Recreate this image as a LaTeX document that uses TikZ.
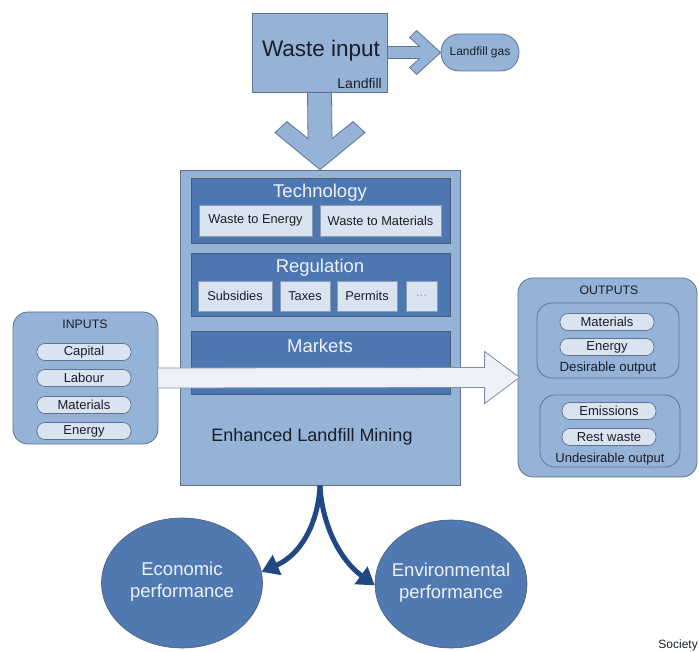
\documentclass[tikz,border=0pt]{standalone}
\usepackage{fontspec}
\setmainfont{Liberation Sans}
\usetikzlibrary{arrows.meta,calc,shapes.geometric}
\definecolor{lblue}{RGB}{149,179,215}
\definecolor{edge}{RGB}{95,115,145}
\definecolor{panel}{RGB}{76,119,178}
\definecolor{pale}{RGB}{218,227,240}
\definecolor{paletext}{RGB}{238,242,248}
\definecolor{circ}{RGB}{80,121,178}
\definecolor{darkarrow}{RGB}{32,72,132}
\definecolor{txt}{RGB}{25,30,40}
\tikzset{
  box/.style={draw=edge, fill=lblue, line width=0.8pt, inner sep=0pt},
  panelbox/.style={draw=edge!80!black, fill=panel, line width=0.8pt, inner sep=0pt},
  itembox/.style={draw=edge!70, fill=pale, line width=0.6pt, inner sep=0pt, font=\fontsize{12.8}{15}\selectfont, text=txt},
  pill/.style={draw=edge, fill=pale, rounded corners=8pt, line width=0.7pt, inner sep=0pt,
    minimum width=94pt, minimum height=17pt, font=\fontsize{13}{15}\selectfont, text=txt},
  rbox/.style={draw=edge, fill=lblue, rounded corners=15pt, line width=0.8pt, inner sep=0pt},
  blockarrow/.style={draw=edge, fill=lblue, line width=0.8pt},
  whitearrow/.style={draw=edge!80, fill=paletext, line width=0.8pt},
  perf/.style={ellipse, draw=edge!80!black, fill=circ, line width=0.6pt, inner sep=0pt},
  perftxt/.style={text=paletext, font=\fontsize{18.5}{22}\selectfont, align=center, inner sep=0pt},
  curvearrow/.style={draw=darkarrow, line width=5pt, -{Triangle[width=21pt,length=17pt]}},
  lbl/.style={inner sep=0pt, text=txt},
  ptitle/.style={inner sep=0pt, text=paletext, font=\fontsize{18.5}{22}\selectfont}
}
\begin{document}
\begin{tikzpicture}[x=1pt,y=-1pt]
\useasboundingbox (0,0) rectangle (699,652);

% Waste input
\node[box, minimum width=135pt, minimum height=79pt] (waste) at (319.5,52.5) {};
\node[lbl, font=\fontsize{22.5}{26}\selectfont] (wastetxt) at (321,51) {Waste input};
\node[lbl, font=\fontsize{14}{16}\selectfont, anchor=east] (lfill) at (382,83) {Landfill};

% Landfill gas
\node[box, rounded corners=18pt, minimum width=78pt, minimum height=37pt,
  font=\fontsize{12}{14}\selectfont, text=txt] (gas) at (480,52.5) {Landfill gas};

% arrow waste -> gas
\coordinate (S1) at (waste.east);
\coordinate (T1) at (gas.west);
\draw[blockarrow] ($(S1)+(0,-6)$) -- ($(T1)+(-21,-6)$) -- ($(T1)+(-31,-15)$) -- ($(T1)+(-24,-22)$)
  -- (T1) -- ($(T1)+(-24,22)$) -- ($(T1)+(-31,15)$) -- ($(T1)+(-21,6)$) -- ($(S1)+(0,6)$) -- cycle;

% Enhanced Landfill Mining main box
\node[box, minimum width=280pt, minimum height=315pt] (elm) at (320,327.5) {};

% down arrow waste -> elm
\coordinate (S2) at (waste.south);
\coordinate (T2) at (elm.north);
\draw[blockarrow] ($(S2)+(-12,0)$) -- ($(T2)+(-12,-31)$) -- ($(T2)+(-33,-48)$) -- ($(T2)+(-45,-37)$)
  -- (T2) -- ($(T2)+(45,-37)$) -- ($(T2)+(33,-48)$) -- ($(T2)+(12,-31)$) -- ($(S2)+(12,0)$) -- cycle;

% Technology
\node[panelbox, minimum width=259pt, minimum height=65pt] (tech) at (320.5,210.5) {};
\node[ptitle] (techtxt) at (320,193) {Technology};
\node[itembox, minimum width=113pt, minimum height=31pt] (wte) at (255.5,220.5) {Waste to Energy};
\node[itembox, minimum width=121pt, minimum height=31pt] (wtm) at (380.5,220.5) {Waste to Materials};

% Regulation
\node[panelbox, minimum width=259pt, minimum height=63pt] (reg) at (320.5,284.5) {};
\node[ptitle] (regtxt) at (320,268) {Regulation};
\node[itembox, minimum width=74pt, minimum height=30pt] (sub) at (235,296) {Subsidies};
\node[itembox, minimum width=50pt, minimum height=30pt] (tax) at (305,296) {Taxes};
\node[itembox, minimum width=60pt, minimum height=30pt] (perm) at (367,296) {Permits};
\node[itembox, minimum width=31pt, minimum height=30pt, text=edge!70] (etc) at (421.5,296) {...};

% Markets
\node[panelbox, minimum width=259pt, minimum height=63pt] (mkt) at (320.5,362.5) {};
\node[ptitle] (mkttxt) at (320,346) {Markets};

\node[lbl, font=\fontsize{18}{21}\selectfont] (elmtxt) at (312,437) {Enhanced Landfill Mining};

% INPUTS
\node[rbox, minimum width=145pt, minimum height=132pt] (inputs) at (85.5,378) {};
\node[lbl, font=\fontsize{12.3}{14}\selectfont] (intxt) at (85,324) {INPUTS};
\node[pill] (cap) at (84,352) {Capital};
\node[pill] (lab) at (84,378) {Labour};
\node[pill] (mat) at (84,405) {Materials};
\node[pill] (ene) at (84,431) {Energy};

% OUTPUTS
\node[rbox, minimum width=179pt, minimum height=199pt] (outputs) at (607.5,377.5) {};
\node[lbl, font=\fontsize{12.3}{14}\selectfont] (outtxt) at (609,290) {OUTPUTS};
\node[rbox, minimum width=142pt, minimum height=75pt] (des) at (608,340.5) {};
\node[pill] (omat) at (607,322) {Materials};
\node[pill] (oene) at (607,347) {Energy};
\node[lbl, font=\fontsize{13.3}{15}\selectfont] (destxt) at (608,368) {Desirable output};
\node[rbox, minimum width=140pt, minimum height=72pt] (undes) at (610,431) {};
\node[pill] (emi) at (609,411) {Emissions};
\node[pill] (rest) at (609,437) {Rest waste};
\node[lbl, font=\fontsize{13}{15}\selectfont] (undestxt) at (610,459) {Undesirable output};

% white arrow inputs -> outputs
\coordinate (S3) at (inputs.east);
\coordinate (T3) at (outputs.west);
\draw[whitearrow] ($(S3)+(0,-10)$) -- ($(T3)+(-33,-10)$) -- ($(T3)+(-33,-26)$) -- ($(T3)+(2,0)$)
  -- ($(T3)+(-33,26)$) -- ($(T3)+(-33,10)$) -- ($(S3)+(0,10)$);

% performance circles
\node[perf, minimum width=161pt, minimum height=130pt] (econ) at (182,583) {};
\node[perftxt] (econtxt) at (182,582) {Economic\\performance};
\node[perf, minimum width=152pt, minimum height=128pt] (env) at (451,584) {};
\node[perftxt] (envtxt) at (451,583) {Environmental\\performance};

% curved arrows
\draw[curvearrow] (elm.south) .. controls (318,525) and (300,555) .. (econ.8);
\draw[curvearrow] (elm.south) .. controls (322,525) and (340,560) .. (env.181);

% Society
\node[lbl, font=\fontsize{12}{14}\selectfont, anchor=south east] (soc) at (698,651) {Society};
\end{tikzpicture}
\end{document}
